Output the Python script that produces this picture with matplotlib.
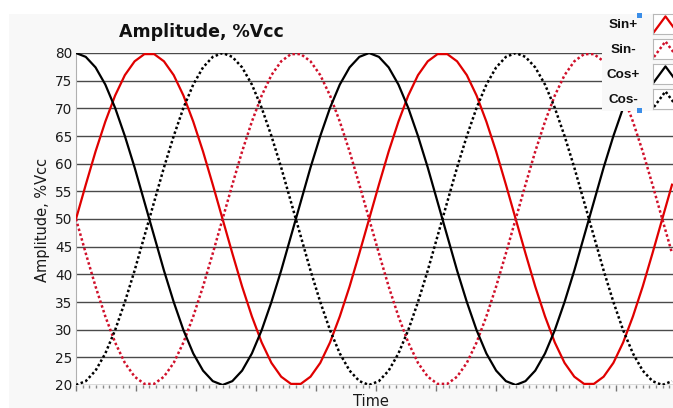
import numpy as np
import matplotlib
matplotlib.use("Agg")
import matplotlib.pyplot as plt
from matplotlib.patches import Rectangle
from matplotlib.ticker import MultipleLocator

# ─────────────────────────────────────────────
# Data (one sample per step, 30 samples per period)
# ─────────────────────────────────────────────
sin_pos = [50.0, 56.2, 62.2, 67.6, 72.3, 76.0, 78.5, 79.8, 79.8, 78.5,
           76.0, 72.3, 67.6, 62.2, 56.2, 50.0, 43.8, 37.8, 32.4, 27.7,
           24.0, 21.5, 20.2, 20.2, 21.5, 24.0, 27.7, 32.4, 37.8, 43.8,
           50.0, 56.2, 62.2, 67.6, 72.3, 76.0, 78.5, 79.8, 79.8, 78.5,
           76.0, 72.3, 67.6, 62.2, 56.2, 50.0, 43.8, 37.8, 32.4, 27.7,
           24.0, 21.5, 20.2, 20.2, 21.5, 24.0, 27.7, 32.4, 37.8, 43.8,
           50.0, 56.2]
sin_neg = [50.0, 43.8, 37.8, 32.4, 27.7, 24.0, 21.5, 20.2, 20.2, 21.5,
           24.0, 27.7, 32.4, 37.8, 43.8, 50.0, 56.2, 62.2, 67.6, 72.3,
           76.0, 78.5, 79.8, 79.8, 78.5, 76.0, 72.3, 67.6, 62.2, 56.2,
           50.0, 43.8, 37.8, 32.4, 27.7, 24.0, 21.5, 20.2, 20.2, 21.5,
           24.0, 27.7, 32.4, 37.8, 43.8, 50.0, 56.2, 62.2, 67.6, 72.3,
           76.0, 78.5, 79.8, 79.8, 78.5, 76.0, 72.3, 67.6, 62.2, 56.2,
           50.0, 43.8]
cos_pos = [80.0, 79.3, 77.4, 74.3, 70.1, 65.0, 59.3, 53.1, 46.9, 40.7,
           35.0, 29.9, 25.7, 22.6, 20.7, 20.0, 20.7, 22.6, 25.7, 29.9,
           35.0, 40.7, 46.9, 53.1, 59.3, 65.0, 70.1, 74.3, 77.4, 79.3,
           80.0, 79.3, 77.4, 74.3, 70.1, 65.0, 59.3, 53.1, 46.9, 40.7,
           35.0, 29.9, 25.7, 22.6, 20.7, 20.0, 20.7, 22.6, 25.7, 29.9,
           35.0, 40.7, 46.9, 53.1, 59.3, 65.0, 70.1, 74.3, 77.4, 79.3,
           80.0, 79.3]
cos_neg = [20.0, 20.7, 22.6, 25.7, 29.9, 35.0, 40.7, 46.9, 53.1, 59.3,
           65.0, 70.1, 74.3, 77.4, 79.3, 80.0, 79.3, 77.4, 74.3, 70.1,
           65.0, 59.3, 53.1, 46.9, 40.7, 35.0, 29.9, 25.7, 22.6, 20.7,
           20.0, 20.7, 22.6, 25.7, 29.9, 35.0, 40.7, 46.9, 53.1, 59.3,
           65.0, 70.1, 74.3, 77.4, 79.3, 80.0, 79.3, 77.4, 74.3, 70.1,
           65.0, 59.3, 53.1, 46.9, 40.7, 35.0, 29.9, 25.7, 22.6, 20.7,
           20.0, 20.7]
samples = np.arange(len(sin_pos))

SERIES = [
    ("Sin+", sin_pos, "#e00000", "-"),
    ("Sin-", sin_neg, "#d0102a", (0, (1, 1))),
    ("Cos+", cos_pos, "black", "-"),
    ("Cos-", cos_neg, "black", (0, (1, 1))),
]
Y_TICKS = list(range(20, 85, 5))

W, H = 673, 408
PANEL = "#f8f8f8"


def fx(px):
    return px / W


def fy(py):
    return 1 - py / H


# ─────────────────────────────────────────────
# Figure + panel
# ─────────────────────────────────────────────
fig = plt.figure(figsize=(W / 100, H / 100), dpi=100, facecolor="white")
fig.patches.append(Rectangle((fx(9), 0), 1, fy(14), transform=fig.transFigure,
                             facecolor=PANEL, edgecolor="none", zorder=-5))

ax = fig.add_axes([fx(76), fy(385), fx(673 - 76), (385 - 53) / H], zorder=1)
ax.set_facecolor("white")

for name, vals, col, ls in SERIES:
    lw = 1.6 if ls == "-" else 1.8
    ax.plot(samples, vals, color=col, linestyle=ls, linewidth=lw, zorder=3)

ax.set_xlim(0, 61.1)
ax.set_ylim(20, 80)
ax.set_yticks(Y_TICKS)
ax.yaxis.grid(True, color="#4a4a4a", linewidth=1.0)
ax.set_axisbelow(True)

ax.xaxis.set_major_locator(MultipleLocator(6.141))
ax.xaxis.set_minor_locator(MultipleLocator(6.141 / 9))
ax.tick_params(axis="x", which="major", length=4, width=1, color="#777777",
               labelbottom=False)
ax.tick_params(axis="x", which="minor", length=2.5, width=1, color="#888888")
ax.tick_params(axis="y", length=0, pad=2.5, labelsize=9.8, labelcolor="#1a1a1a")

for side in ["top", "right", "bottom"]:
    ax.spines[side].set_visible(False)
ax.spines["left"].set_color("#b0b0b0")

# ─────────────────────────────────────────────
# Text
# ─────────────────────────────────────────────
fig.text(fx(201.5), fy(37.3), "Amplitude, %Vcc", ha="center", va="baseline",
         fontsize=12.5, fontweight="bold", color="#111111")
fig.text(fx(42), fy(220), "Amplitude, %Vcc", ha="center", va="center",
         rotation=90, fontsize=10.5, color="#1a1a1a")
fig.text(fx(371), fy(394), "Time", ha="center", va="top",
         fontsize=10.5, color="#1a1a1a")

# ─────────────────────────────────────────────
# Legend (LabVIEW style plot legend)
# ─────────────────────────────────────────────
fig.patches.append(Rectangle((fx(602), fy(111)), 1, (111 - 14) / H,
                             transform=fig.transFigure, facecolor=PANEL,
                             edgecolor="none", zorder=5))
for i, (name, vals, col, ls) in enumerate(SERIES):
    top = 14 + 25 * i
    fig.text(fx(623), fy(top + 11), name, ha="center", va="center",
             fontsize=9.7, fontweight="bold", family="Liberation Sans",
             color="#111111", zorder=6)
    lax = fig.add_axes([fx(653), fy(top + 20), fx(24), 20 / H], zorder=6)
    lax.set_facecolor("white")
    lax.plot([0.04, 0.52, 1.0], [0.1, 0.88, 0.1], color=col, linestyle=ls,
             linewidth=1.6 if ls == "-" else 1.8)
    lax.set_xlim(0, 1)
    lax.set_ylim(0, 1)
    lax.set_xticks([])
    lax.set_yticks([])
    for sp in lax.spines.values():
        sp.set_color("#b8b8b8")
        sp.set_linewidth(0.8)

for py in (15, 110):
    fig.patches.append(Rectangle((fx(637), fy(py + 2.5)), fx(5), 5 / H,
                                 transform=fig.transFigure, facecolor="#3b8ee8",
                                 edgecolor="none", zorder=7))

plt.savefig("out.png", dpi=100, facecolor=fig.get_facecolor())
plt.close()
